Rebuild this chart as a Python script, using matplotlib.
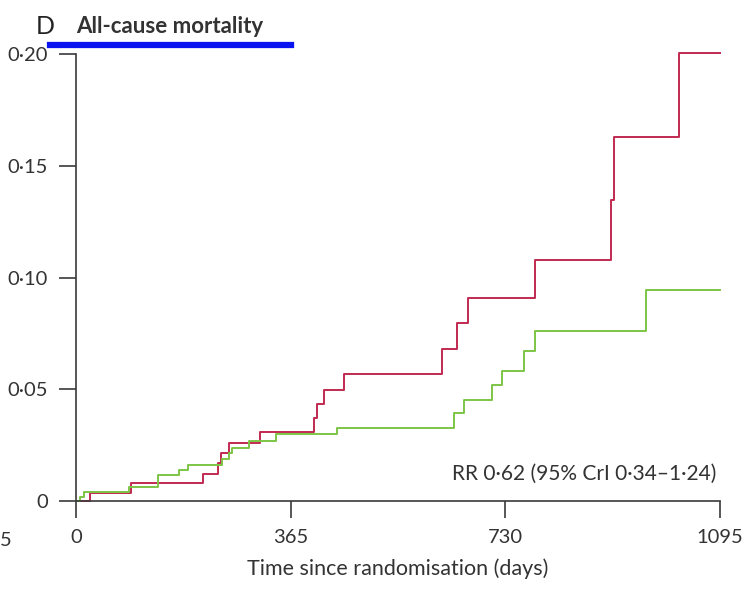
import matplotlib.pyplot as plt

plt.rcParams['font.family'] = ['Liberation Sans Narrow', 'Lato', 'DejaVu Sans']

# step times (days) and cumulative mortality
red_days = [0, 23, 94, 216, 241, 247, 260, 313, 405, 409, 421, 455, 622, 647, 667, 781, 910, 915, 1026, 1095]
red_vals = [0, 0.0037, 0.0079, 0.0119, 0.0169, 0.0213, 0.0258, 0.0307, 0.0372, 0.0434, 0.0498, 0.0567,
            0.0682, 0.0798, 0.0910, 0.1080, 0.1347, 0.1627, 0.2006, 0.2006]
green_days = [0, 7, 14, 90, 140, 176, 191, 249, 261, 266, 294, 340, 443, 643, 660, 708, 725, 761, 781, 970, 1095]
green_vals = [0, 0.0017, 0.0040, 0.0061, 0.0116, 0.0139, 0.0163, 0.0187, 0.0216, 0.0239, 0.0270, 0.0298,
              0.0328, 0.0392, 0.0453, 0.0519, 0.0582, 0.0671, 0.0761, 0.0944, 0.0944]

xticks = [0, 365, 730, 1095]
yticks = [0, 0.05, 0.10, 0.15, 0.20]
ytick_labels = ['0', '0·05', '0·10', '0·15', '0·20']

fig = plt.figure(figsize=(7.5, 5.91), dpi=100)
ax = fig.add_axes([0.1013, 0.1523, 0.8587, 0.7563])

ax.step(red_days, red_vals, where='post', color='#c22a50', lw=1.4, clip_on=False)
ax.step(green_days, green_vals, where='post', color='#7cc545', lw=1.4, clip_on=False)

ax.set_xlim(0, 1095)
ax.set_ylim(0, 0.2)
ax.set_xticks(xticks)
ax.set_xticklabels([str(t) for t in xticks])
ax.set_yticks(yticks)
ax.set_yticklabels(ytick_labels)

for s in ['top', 'right']:
    ax.spines[s].set_visible(False)
for s in ['left', 'bottom']:
    ax.spines[s].set_color('#3a3a3a')
    ax.spines[s].set_linewidth(1.2)
ax.tick_params(length=12, width=1.2, color='#3a3a3a', labelsize=14.5, labelcolor='#333333', pad=8)

ax.set_xlabel('Time since randomisation (days)', fontsize=15.5, color='#333333', labelpad=9)

ax.text(0.995, 0.06, 'RR 0·62 (95% CrI 0·34–1·24)', transform=ax.transAxes,
        ha='right', va='center', fontsize=15, color='#333333')

fig.text(0.047, 0.955, 'D', fontsize=18, color='#222222', va='center')
fig.text(0.101, 0.955, 'All-cause mortality', fontsize=16, fontweight='bold', color='#333333', va='center')
fig.add_artist(plt.Line2D([0.067, 0.388], [0.924, 0.924], color='#0a14f0', lw=4.5))
fig.text(0.0, 0.086, '5', fontsize=14.5, color='#333333', va='center')

fig.savefig('out.png', dpi=100)
